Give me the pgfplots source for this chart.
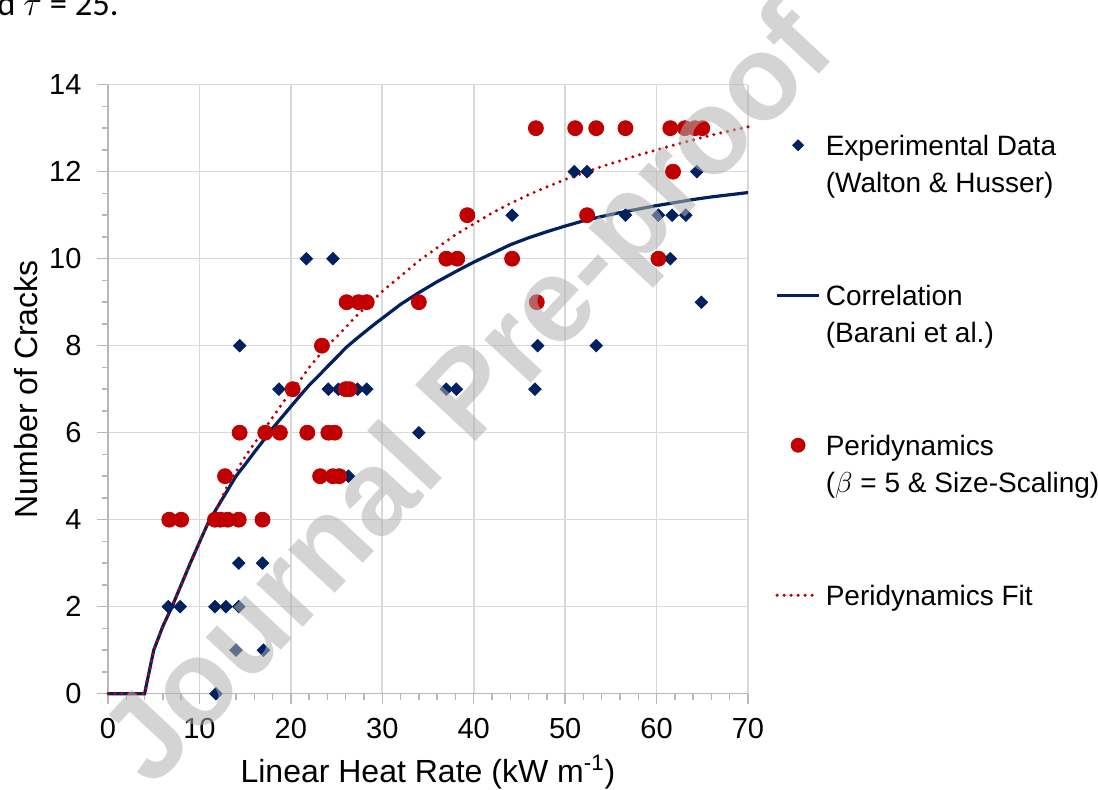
\documentclass[border=0pt]{standalone}
\usepackage{pgfplots}
\pgfplotsset{compat=1.18}
\usepackage{fontspec}
\setmainfont{Liberation Sans}
\newfontfamily\carlito{Carlito}
\definecolor{navy}{HTML}{002060}
\definecolor{dred}{HTML}{C00000}
\definecolor{gridgray}{HTML}{D9D9D9}
\definecolor{axisgray}{HTML}{B8B8B8}
\definecolor{wmgray}{HTML}{B0B0B0}

\pgfplotstableread{
x y
6.6 2
7.9 2
11.7 2
12.9 2
14.3 2
11.8 0
14.0 1
17.0 1
14.3 3
16.9 3
14.4 8
18.7 7
21.7 10
24.6 10
24.1 7
25.2 7
27.3 7
28.3 7
26.3 5
34.0 6
37.0 7
38.1 7
46.7 7
47.0 8
53.4 8
44.2 11
51.0 12
52.4 12
56.6 11
60.2 11
61.7 11
63.2 11
61.5 10
64.4 12
64.9 9
}\expdata

\pgfplotstableread{
x y
6.7 4
8.0 4
11.7 4
12.3 4
13.1 4
14.3 4
16.9 4
12.8 5
23.2 5
24.6 5
25.3 5
14.4 6
17.2 6
18.8 6
21.8 6
24.1 6
24.8 6
20.2 7
26.0 7
26.4 7
23.4 8
26.1 9
27.4 9
28.3 9
34.0 9
46.9 9
37.0 10
38.2 10
44.2 10
60.2 10
39.3 11
52.4 11
61.8 12
46.8 13
51.1 13
53.4 13
56.6 13
61.5 13
63.1 13
64.2 13
65.0 13
}\pddata

\pgfplotstableread{
x y
0 0
4 0
5 1.0
6 1.55
7 2.0
8 2.5
9 3.0
10 3.48
11 3.95
12 4.3
13 4.65
14 5.0
15 5.27
16 5.55
17 5.82
18 6.1
19 6.35
20 6.6
21 6.85
22 7.09
23 7.3
24 7.52
25 7.73
26 7.95
27 8.13
28 8.3
29 8.47
30 8.63
32 8.95
34 9.22
36 9.47
38 9.7
40 9.92
42 10.12
44 10.32
46 10.48
48 10.62
50 10.75
52 10.87
54 10.97
56 11.06
58 11.14
60 11.22
62 11.29
64 11.36
66 11.42
68 11.47
70 11.52
}\corr

\pgfplotstableread{
x y
0 0
4 0
5 1.0
6 1.55
7 2.0
8 2.5
9 3.0
10 3.48
11 3.95
12 4.3
13 4.75
14 5.1
15 5.45
16 5.75
17 6.05
18 6.35
19 6.65
20 6.95
21 7.2
22 7.5
23 7.75
24 8.0
25 8.2
26 8.42
27 8.65
28 8.85
29 9.05
30 9.25
32 9.6
34 9.95
36 10.25
38 10.55
40 10.8
42 11.05
44 11.27
46 11.47
48 11.65
50 11.82
52 11.97
54 12.12
56 12.25
58 12.38
60 12.5
62 12.62
64 12.73
66 12.84
68 12.94
70 13.03
}\pdfit

\begin{document}
\begin{tikzpicture}[x=1pt,y=1pt]
\useasboundingbox (0,0) rectangle (549,395);
\clip (0,0) rectangle (549,395);
\node[anchor=base west, inner sep=0pt, font=\carlito\fontsize{17.3}{20}\selectfont] at (-1.5,387) {d $\tau$ = 25.};
\begin{axis}[
  at={(54pt,48.15pt)}, anchor=south west,
  scale only axis, width=320pt, height=304.5pt,
  xmin=0, xmax=70, ymin=0, ymax=14,
  xtick={0,10,...,70}, ytick={0,2,...,14},
  minor x tick num=4, minor y tick num=3,
  separate axis lines,
  axis x line*=bottom, axis y line*=left,
  axis line style={color=axisgray, line width=0.8pt, -},
  grid=major,
  major grid style={color=gridgray, line width=0.8pt},
  minor grid style={draw=none},
  tick align=outside,
  major tick length=5.25pt, minor tick length=3.2pt,
  every tick/.style={color=axisgray, line width=0.7pt},
  /pgf/number format/assume math mode=true,
  ticklabel style={font=\fontsize{14.5}{17}\selectfont},
  xticklabel style={yshift=-3.25pt},
  yticklabel style={xshift=-4.5pt},
  xlabel={Linear Heat Rate (kW m\textsuperscript{-1})},
  ylabel={Number of Cracks},
  every axis x label/.style={at={(axis description cs:0.5,-0.1466)}, anchor=base, font=\fontsize{16}{19}\selectfont},
  every axis y label/.style={at={(axis description cs:-0.1109,0.5)}, rotate=90, anchor=base, font=\fontsize{16}{19}\selectfont},
  clip=false,
  legend cell align=left,
  legend style={at={(axis description cs:1.0422,0.932)}, anchor=north west,
    draw=none, fill=none, inner sep=0pt, row sep=0pt, column sep=0pt,
    font=\fontsize{14}{16}\selectfont,
    nodes={inner xsep=2.5pt, inner ysep=0pt, text height=14.3pt, text depth=4.45pt}},
]
\addplot[only marks, mark=square*, mark size=2.2pt, mark options={rotate=45, fill=navy, draw=navy}, forget plot] table[x=x,y=y] {\expdata};
\addplot[only marks, mark=*, mark size=3.75pt, mark options={fill=dred, draw=dred}, forget plot] table[x=x,y=y] {\pddata};
\addplot[navy, line width=1.6pt, no marks, forget plot] table[x=x,y=y] {\corr};
\addplot[dred, line width=1.7pt, no marks, line cap=round, dash pattern=on 0pt off 3.5pt, forget plot] table[x=x,y=y] {\pdfit};

\addlegendimage{legend image code/.code={\path[mark=square*, mark size=1.9pt, mark options={rotate=45, fill=navy, draw=navy}] plot coordinates {(10.5pt,0pt)};}}
\addlegendentry{Experimental Data}
\addlegendimage{empty legend}\addlegendentry{(Walton \& Husser)}
\addlegendimage{empty legend}\addlegendentry{}
\addlegendimage{empty legend}\addlegendentry{}
\addlegendimage{legend image code/.code={\draw[navy, line width=1.6pt] (0pt,0pt) -- (21pt,0pt);}}
\addlegendentry{Correlation}
\addlegendimage{empty legend}\addlegendentry{(Barani et al.)}
\addlegendimage{empty legend}\addlegendentry{}
\addlegendimage{empty legend}\addlegendentry{}
\addlegendimage{legend image code/.code={\path[mark=*, mark size=3.5pt, mark options={fill=dred, draw=dred}] plot coordinates {(10.5pt,0pt)};}}
\addlegendentry{Peridynamics}
\addlegendimage{empty legend}\addlegendentry{($\beta$ = 5 \& Size-Scaling)}
\addlegendimage{empty legend}\addlegendentry{}
\addlegendimage{empty legend}\addlegendentry{}
\addlegendimage{legend image code/.code={\draw[dred, line width=1.7pt, line cap=round, dash pattern=on 0pt off 3.5pt] (0pt,0pt) -- (21pt,0pt);}}
\addlegendentry{Peridynamics Fit}
\end{axis}
\node[rotate=47, text=wmgray, opacity=0.55, font=\bfseries\fontsize{60}{70}\selectfont, inner sep=0pt] at (236.5,195) {Journal Pre-proof};
\end{tikzpicture}
\end{document}
